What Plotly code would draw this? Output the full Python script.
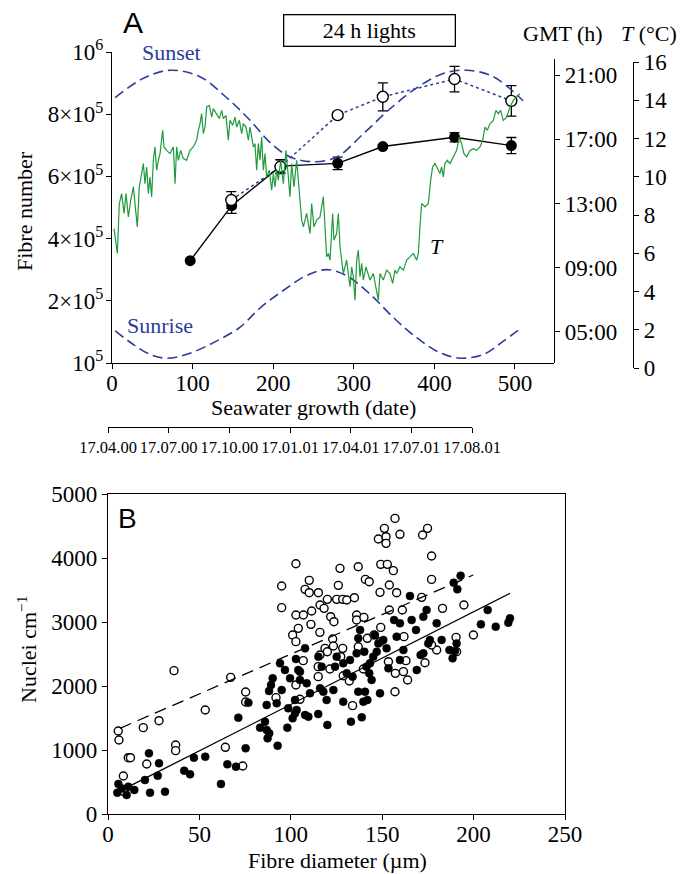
import plotly.graph_objects as go

W, H = 688, 874
SERIF = "Liberation Serif"
SANS = "Liberation Sans"
BLUE = "#2b3c9b"
GREEN = "#1f9a3c"

# ---------------- Panel A data ----------------
x_ticks_a = [0, 100, 200, 300, 400, 500]
fibre_tickvals = [0, 200000, 400000, 600000, 800000, 1000000]
fibre_ticktext = ["10<sup>5</sup>", "2×10<sup>5</sup>", "4×10<sup>5</sup>",
                  "6×10<sup>5</sup>", "8×10<sup>5</sup>", "10<sup>6</sup>"]
gmt_tickvals = [5, 9, 13, 17, 21]
gmt_ticktext = ["05:00", "09:00", "13:00", "17:00", "21:00"]
temp_tickvals = [0, 2, 4, 6, 8, 10, 12, 14, 16]
date_ticktext = ["17.04.00", "17.07.00", "17.10.00", "17.01.01",
                 "17.04.01", "17.07.01", "17.08.01"]

filled_day = [97, 148.5, 209, 280, 336, 425, 495.5]
filled_n = [329000, 506000, 633000, 642000, 696000, 726000, 699000]
filled_err = [0, 25000, 21000, 20000, 6000, 15000, 26000]

open_day = [148, 209, 280, 336, 425, 495.5]
open_n = [524000, 631000, 797000, 856000, 913000, 843000]
open_err = [27000, 22000, 10000, 45000, 41000, 49000]

sunset_day = [4, 39, 72, 109, 142, 171, 196, 221, 250, 279, 312, 345, 378, 411, 440, 473, 510]
sunset_h = [19.6, 20.8, 21.3, 20.9, 19.6, 18.2, 16.8, 15.9, 15.6, 15.9, 17.35, 18.9, 20.2, 21.1, 21.3, 20.9, 19.4]

sunrise_day = [4, 26, 47, 68, 93, 126, 159, 184, 212, 241, 266, 291, 320, 349, 378, 407, 432, 461, 486, 506]
sunrise_h = [5.06, 4.23, 3.6, 3.36, 3.6, 4.33, 5.3, 6.5, 7.56, 8.5, 8.88, 8.5, 7.36, 5.9, 4.64, 3.7, 3.36, 3.6, 4.44, 5.17]

temp_series = [
    (2.5, 7.29), (6.6, 5.99), (9.1, 8.60), (12.0, 9.12), (14.9, 8.08), (17.4, 9.12),
    (20.3, 7.90), (23.2, 8.77), (26.5, 9.47), (28.5, 8.42), (31.4, 7.38), (33.9, 9.47),
    (36.8, 10.34), (38.9, 10.69), (40.9, 9.64), (43.0, 10.51), (45.1, 9.12), (47.1, 9.99),
    (49.2, 8.95), (51.3, 10.86), (53.3, 11.56), (55.4, 10.34), (57.5, 10.86), (59.6, 11.21),
    (62.9, 12.43), (64.5, 11.56), (67.8, 11.38), (72.0, 11.21), (76.1, 11.56), (78.2, 9.64),
    (80.2, 11.56), (82.3, 10.86), (85.2, 11.38), (88.5, 10.95), (92.6, 10.86), (96.8, 11.38),
    (100.9, 11.56), (105.0, 11.91), (107.1, 12.43), (109.2, 12.78), (111.2, 13.30), (113.3, 12.25),
    (115.4, 12.60), (117.5, 13.65), (120.8, 13.73), (123.7, 13.12), (125.7, 13.56), (129.9, 13.30),
    (133.2, 13.04), (136.1, 13.47), (138.1, 13.04), (141.4, 13.21), (144.3, 11.91), (146.4, 12.95),
    (149.7, 12.69), (152.6, 13.12), (154.7, 12.60), (158.0, 12.95), (160.9, 12.25), (162.9, 12.78),
    (166.3, 12.60), (169.2, 11.91), (171.2, 12.60), (175.4, 11.56), (177.4, 11.73), (179.5, 10.34),
    (181.6, 11.73), (183.6, 10.86), (185.7, 12.08), (187.8, 10.34), (189.8, 11.21), (191.9, 9.99),
    (195.2, 10.34), (198.1, 9.30), (200.2, 10.17), (202.2, 9.47), (204.3, 10.34), (206.4, 9.82),
    (209.3, 10.86), (212.6, 9.64), (215.9, 11.38), (218.8, 9.99), (220.8, 8.95), (222.9, 10.69),
    (225.8, 9.47), (229.1, 10.86), (231.2, 9.82), (233.3, 9.12), (235.3, 7.73), (237.4, 7.38),
    (241.5, 8.08), (245.7, 7.03), (247.7, 8.60), (250.6, 7.38), (253.9, 7.73), (258.1, 7.90),
    (262.2, 8.95), (264.3, 7.38), (266.3, 5.81), (268.4, 5.99), (270.5, 5.64), (273.8, 8.08),
    (275.4, 6.68), (278.7, 7.03), (280.8, 8.08), (282.9, 6.34), (284.9, 5.64), (287.0, 4.94),
    (291.1, 5.64), (295.3, 4.25), (297.4, 5.29), (299.4, 4.77), (301.5, 3.55), (303.6, 5.64),
    (305.6, 6.16), (307.7, 4.77), (309.8, 5.47), (311.8, 4.60), (315.1, 5.29), (318.0, 4.94),
    (320.1, 4.60), (324.2, 4.94), (328.4, 3.90), (330.4, 3.55), (332.5, 4.94), (336.6, 4.60),
    (340.8, 5.12), (344.9, 4.94), (348.2, 4.42), (351.1, 5.12), (353.2, 4.94), (357.3, 5.29),
    (361.5, 5.12), (365.6, 5.64), (369.7, 5.81), (373.9, 5.99), (378.0, 5.64), (380.1, 5.99),
    (382.1, 7.38), (384.2, 8.60), (388.3, 8.42), (392.5, 8.60), (395.4, 9.82), (397.8, 10.51),
    (400.7, 10.69), (404.9, 10.34), (406.9, 10.17), (409.0, 10.51), (411.1, 9.99), (413.1, 10.69),
    (416.0, 10.86), (419.4, 10.69), (423.5, 11.04), (427.6, 11.38), (430.9, 12.08), (433.8, 11.73),
    (436.7, 11.21), (440.0, 11.04), (444.2, 11.38), (448.3, 11.47), (452.4, 11.38), (456.6, 11.56),
    (459.9, 11.91), (462.8, 12.60), (465.7, 12.43), (469.0, 12.78), (473.1, 12.95), (476.4, 13.47),
    (479.3, 13.30), (482.2, 13.47), (485.5, 12.95), (489.7, 13.12), (493.8, 13.65), (497.9, 13.99),
    (502.1, 14.17), (506.2, 14.34),
]
temp_day = [d for d, _ in temp_series]
temp_c = [t for _, t in temp_series]

# ---------------- Panel B data ----------------
x_ticks_b = [0, 50, 100, 150, 200, 250]
y_ticks_b = [0, 1000, 2000, 3000, 4000, 5000]

open_pts = [
    (5.6, 1297), (6.0, 1156), (19.3, 1349), (27.9, 1458), (36.1, 2240), (37.0, 1078), (37.0, 990),
    (53.2, 1625), (67.1, 2135), (64.2, 1042), (73.7, 750), (75.3, 1906), (75.3, 1750), (8.4, 594),
    (8.8, 349), (11.1, 880), (12.3, 880), (21.2, 781), (91.9, 1818), (102.8, 2016), (105, 1792),
    (106.8, 2396), (115, 2302), (115, 2146), (121.4, 2266),
    (95.0, 3562), (95.0, 3224), (102.8, 3911), (110.1, 3651), (107.8, 3510), (110.1, 3458),
    (115.1, 3458), (102.8, 3109), (106.9, 3109), (104.1, 2901), (111.4, 3172), (111.0, 2963),
    (101.0, 2797), (102.8, 2693), (115.9, 2838), (116, 3265), (118.2, 3213), (120, 3354),
    (121.8, 3083), (123.6, 3005), (125.1, 3354), (126, 3573), (126.9, 3838), (128.4, 3354),
    (130.6, 3344), (134.8, 3380), (136.9, 3864), (140.8, 3666), (142.9, 3630), (149.2, 3901),
    (152.8, 3901), (156.1, 3802), (148.8, 3463), (153.9, 3578), (157.9, 3458),
    (136.0, 3109), (136.0, 3031), (140, 3073), (122.9, 2734), (123.3, 2625), (118.7, 2588),
    (120, 2536), (115.9, 2484), (133.8, 1693), (128.4, 2588), (127.3, 2458), (132, 2078),
    (128.7, 2161), (136.9, 2614), (139.7, 2265), (141.9, 2745), (145.5, 2797), (149.2, 2916),
    (148.8, 2692), (153.9, 3187), (161, 3187), (161.9, 2771), (163, 2396), (161.6, 2224),
    (163.9, 2094), (157.2, 2198), (157, 1911), (153.4, 2380), (173.4, 2364), (179.8, 2562),
    (190.4, 2760), (190.7, 2536), (177, 2640),
    (157, 4619), (151.2, 4463), (147.9, 4297), (152.1, 4333), (152.1, 4229), (159.7, 4370),
    (172.1, 4359), (174.8, 4463), (177, 4031), (177, 3666), (171.6, 3385), (183, 3213),
    (194.7, 3265), (199.9, 2797),
]
filled_pts = [
    (5.1, 333), (5.7, 469), (7.5, 400), (10.2, 297), (11.1, 427), (14.4, 375), (22.4, 948),
    (20.2, 531), (23, 333), (27.2, 599), (27.9, 792), (31.2, 349), (41.7, 677), (44.9, 620),
    (47, 880), (53.2, 896), (61.8, 469), (65.3, 776), (70, 740), (71.3, 1505), (75.3, 1026),
    (76.8, 1740), (83.2, 1349), (85.9, 1443), (86.8, 1313), (87.3, 1182), (88.2, 1260),
    (86.8, 1703), (88.1, 1922), (89.2, 2016), (90.1, 2120), (92.3, 1729), (95, 1937),
    (92.8, 1068), (94.1, 2354), (96.8, 2250), (98.1, 1349), (98.6, 1651), (101, 1495),
    (103.2, 1625), (102.3, 1781), (105, 2224), (105, 2094), (108.7, 2042), (107.8, 1547),
    (109.6, 1521), (110.5, 1886), (115, 1562), (116, 1964), (120, 1391), (119.6, 1781),
    (117.8, 1911), (123.3, 1937), (124.2, 2302),
    (107.8, 2588), (102.8, 2422), (104.1, 2250), (115.1, 2458), (116.9, 2302), (125.1, 2458),
    (132.4, 2406), (136.9, 2745), (137.9, 2875), (136, 2510), (140.2, 2536), (143.3, 2354),
    (146, 2797), (147.9, 2666), (147, 2536), (150.6, 2719), (152.4, 2588), (156.5, 3031),
    (159.7, 2979), (157.9, 2771), (165.2, 3406), (166.1, 3031), (168.5, 2875), (161.6, 2562),
    (159.7, 2406), (168.9, 2250), (172.5, 3083), (174.3, 3187), (179.8, 2979), (189.1, 3614),
    (191.1, 3510), (182.5, 2719), (176.1, 2719), (171, 2484), (186.8, 2562), (188.5, 2432),
    (190.7, 2666), (142.9, 2198), (148.8, 1885), (140.6, 1911), (139.7, 1755), (141.9, 1781),
    (136.9, 1911), (128.7, 1755), (138.8, 1510), (132.9, 1443), (144.2, 2094), (128.7, 2354),
    (130.6, 2198), (133.8, 2146), (145.1, 2458), (153.4, 2276), (141.4, 2302), (102.3, 1573),
    (99.6, 2120),
    (192.9, 3724), (207.7, 3187), (204, 2963), (212.1, 2927), (219, 2990), (219.9, 3057),
    (175.2, 2666), (172.5, 2510), (189.8, 2547),
]

fit_filled_x = [10.2, 219.9]
fit_filled_y = [411, 3448]
fit_open_x = [6.6, 199.8]
fit_open_y = [1339, 3734]

# ---------------- helpers (positions only) ----------------
def fx(p):
    return p / W

def fy(p):
    return 1 - p / H

axis_style = dict(showline=True, linecolor="black", linewidth=1.3, ticks="outside",
                  ticklen=5, tickwidth=1.3, tickcolor="black", showgrid=False,
                  zeroline=False, automargin=False,
                  tickfont=dict(family=SERIF, size=23, color="black"))

fig = go.Figure()

# Temperature
fig.add_trace(go.Scatter(x=temp_day, y=temp_c, xaxis="x", yaxis="y3", mode="lines",
                         line=dict(color=GREEN, width=1.2), showlegend=False, hoverinfo="skip"))
# Sunset / sunrise
fig.add_trace(go.Scatter(x=sunset_day, y=sunset_h, xaxis="x", yaxis="y2", mode="lines",
                         line=dict(color=BLUE, width=1.6, dash="10px,5px", shape="spline"),
                         showlegend=False))
fig.add_trace(go.Scatter(x=sunrise_day, y=sunrise_h, xaxis="x", yaxis="y2", mode="lines",
                         line=dict(color=BLUE, width=1.6, dash="10px,5px", shape="spline"),
                         showlegend=False))
# dummy for date axis
fig.add_trace(go.Scatter(x=[0, 6], y=[0, 0], xaxis="x2", yaxis="y", mode="markers",
                         marker=dict(opacity=0), showlegend=False, hoverinfo="skip"))
# Fibre number series
fig.add_trace(go.Scatter(x=open_day, y=open_n, xaxis="x", yaxis="y", mode="lines",
                         line=dict(color=BLUE, width=1.5, dash="dot"), showlegend=False))
fig.add_trace(go.Scatter(x=filled_day, y=filled_n, xaxis="x", yaxis="y", mode="lines+markers",
                         line=dict(color="black", width=1.4),
                         marker=dict(color="black", size=11),
                         error_y=dict(type="data", array=filled_err, color="black",
                                      thickness=1.3, width=5),
                         showlegend=False))
fig.add_trace(go.Scatter(x=open_day, y=open_n, xaxis="x", yaxis="y", mode="markers",
                         marker=dict(color="white", size=11, line=dict(color="black", width=1.4)),
                         error_y=dict(type="data", array=open_err, color="black",
                                      thickness=1.3, width=5),
                         showlegend=False))

# Panel B
fig.add_trace(go.Scatter(x=[p[0] for p in open_pts], y=[p[1] for p in open_pts],
                         xaxis="x3", yaxis="y4", mode="markers",
                         marker=dict(color="white", size=8, line=dict(color="black", width=1.4)),
                         showlegend=False))
fig.add_trace(go.Scatter(x=[p[0] for p in filled_pts], y=[p[1] for p in filled_pts],
                         xaxis="x3", yaxis="y4", mode="markers",
                         marker=dict(color="black", size=8, line=dict(color="black", width=0.5)),
                         showlegend=False))
fig.add_trace(go.Scatter(x=fit_filled_x, y=fit_filled_y, xaxis="x3", yaxis="y4", mode="lines",
                         line=dict(color="black", width=1.3), showlegend=False))
fig.add_trace(go.Scatter(x=fit_open_x, y=fit_open_y, xaxis="x3", yaxis="y4", mode="lines",
                         line=dict(color="black", width=1.3, dash="12px,7px"), showlegend=False))

layout = dict(
    width=W, height=H, margin=dict(l=0, r=0, t=0, b=0, pad=0, autoexpand=False),
    paper_bgcolor="white", plot_bgcolor="rgba(0,0,0,0)",
    showlegend=False,
    xaxis=dict(axis_style, domain=[fx(112), fx(554)], range=[0, 548.4], anchor="y",
               tickvals=x_ticks_a, ticklabelstandoff=-6),
    yaxis=dict(axis_style, domain=[fy(363), fy(52)], range=[0, 1000000], anchor="x",
               tickvals=fibre_tickvals, ticktext=fibre_ticktext, ticklabelstandoff=-2),
    yaxis2=dict(axis_style, domain=[fy(363), fy(59)], range=[3.06, 22.0], anchor="free",
                position=fx(554), side="right", tickvals=gmt_tickvals, ticktext=gmt_ticktext),
    yaxis3=dict(axis_style, domain=[fy(368), fy(62)], range=[0, 16], anchor="free",
                position=fx(633), side="right", tickvals=temp_tickvals),
    xaxis2=dict(axis_style, domain=[fx(108), fx(472)], range=[0, 6], anchor="free",
                position=fy(427), tickvals=list(range(7)), ticktext=date_ticktext,
                tickangle=0, tickfont=dict(family=SERIF, size=16.5, color="black")),
    xaxis3=dict(axis_style, domain=[fx(108), fx(565)], range=[0, 250], anchor="y4",
                tickvals=x_ticks_b, mirror=True, ticklabelstandoff=-6),
    yaxis4=dict(axis_style, domain=[fy(814), fy(494)], range=[0, 5000], anchor="x3",
                tickvals=y_ticks_b, mirror=True),
)
fig.update_layout(**layout)

def ann(text, x, y, size=22, family=SERIF, color="black", angle=0, **kw):
    fig.add_annotation(text=text, x=fx(x), y=fy(y), xref="paper", yref="paper",
                       showarrow=False, xanchor="center", yanchor="middle",
                       textangle=angle, font=dict(family=family, size=size, color=color), **kw)

ann("A", 133, 22, size=30, family=SANS)
ann("24 h lights", 370, 30, bordercolor="black", borderwidth=1.3, borderpad=0,
    width=170, height=30)
ann("Sunset", 171, 52, color=BLUE)
ann("Sunrise", 160, 325, color=BLUE)
ann("<i>T</i>", 437, 247)
ann("GMT (h)", 563, 33)
ann("<i>T</i> (°C)", 649, 33)
ann("Fibre number", 24, 211, angle=-90)
ann("Seawater growth (date)", 313, 407)
ann("B", 127, 518, size=28, family=SANS)
ann("Nuclei cm<sup>−1</sup>", 27, 650, angle=-90)
ann("Fibre diameter (µm)", 337, 860)

fig.write_html(
    "out.html",
    config={"displayModeBar": False},
    post_script="document.body.style.margin='0';document.body.style.overflow='hidden';",
)
